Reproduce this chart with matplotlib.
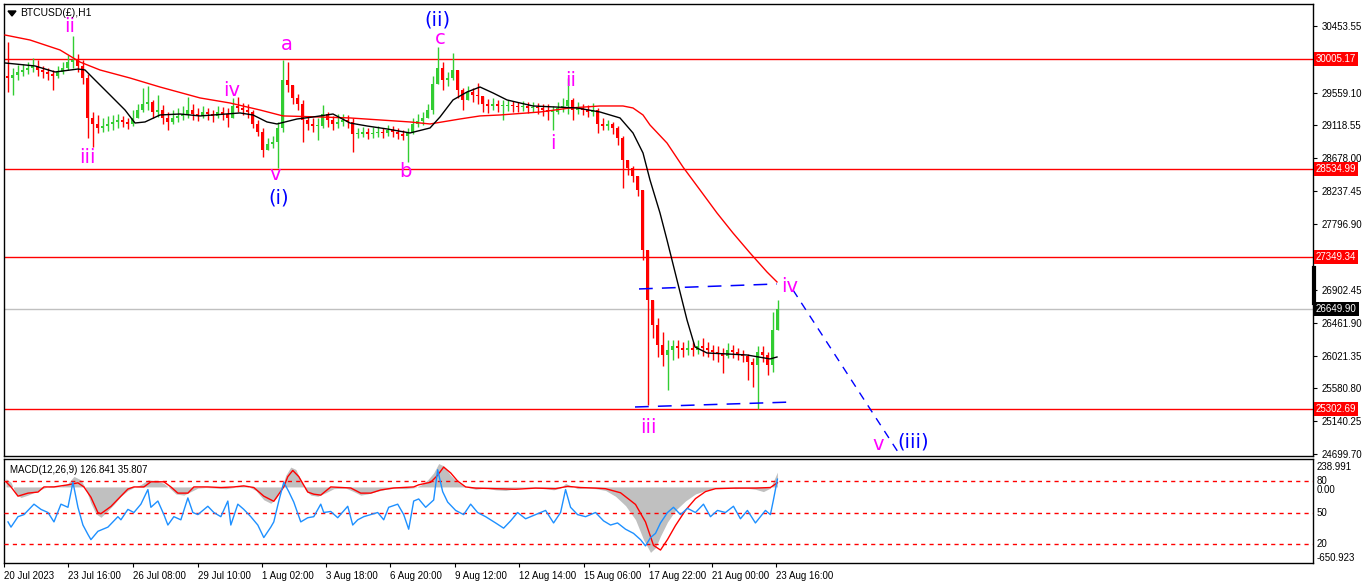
import matplotlib
matplotlib.use("Agg")
import matplotlib.pyplot as plt
from matplotlib.transforms import blended_transform_factory
import numpy as np

# ==================================================
# DATA (BTCUSD H1, each candle = 5 hourly bars)
# ==================================================
BAR_STEP = 5
first_open = 29780

closes = [29754, 29795, 29835, 29862, 29889, 29916, 29862, 29835, 29808, 29781,
          29835, 29889, 29969, 29996, 29916, 29754, 29217, 29136, 29082, 29109,
          29136, 29163, 29190, 29163, 29136, 29217, 29324, 29405, 29432, 29297,
          29324, 29217, 29163, 29217, 29244, 29270, 29324, 29270, 29244, 29297,
          29270, 29244, 29297, 29270, 29217, 29378, 29351, 29324, 29297, 29136,
          29028, 28786, 28867, 28894, 29082, 29727, 29660, 29486, 29405, 29190,
          29136, 29109, 29109, 29270, 29190, 29136, 29163, 29190, 29163, 29001,
          29001, 29028, 29001, 29015, 29028, 29015, 29055, 29028, 29001, 28975,
          29028, 29136, 29176, 29217, 29324, 29674, 29889, 29727, 29754, 29862,
          29593, 29459, 29566, 29526, 29512, 29405, 29378, 29405, 29378, 29378,
          29391, 29378, 29365, 29378, 29351, 29365, 29351, 29324, 29297, 29297,
          29351, 29378, 29459, 29324, 29351, 29324, 29297, 29324, 29136, 29109,
          29136, 29082, 28948, 28652, 28544, 28437, 28249, 27442, 26770, 26434,
          26165, 26030, 26098, 26151, 26125, 26098, 26125, 26098, 26151, 26125,
          26098, 26071, 26044, 26017, 26098, 26071, 26044, 26017, 25936, 25896,
          26071, 26030, 25896, 26366, 26649.90]

highs = [30238, 29889, 29929, 29943, 29969, 30023, 29996, 29916, 29889, 29862,
         29916, 29969, 30064, 30319, 30077, 29996, 29808, 29297, 29257, 29217,
         29244, 29257, 29270, 29244, 29217, 29324, 29405, 29620, 29647, 29459,
         29526, 29391, 29297, 29324, 29351, 29378, 29499, 29405, 29351, 29378,
         29351, 29324, 29378, 29365, 29351, 29486, 29499, 29418, 29405, 29324,
         29190, 29082, 28948, 28975, 29163, 29996, 29969, 29647, 29539, 29459,
         29244, 29217, 29217, 29391, 29297, 29244, 29270, 29270, 29257, 29217,
         29082, 29096, 29082, 29096, 29109, 29082, 29122, 29109, 29082, 29055,
         29082, 29217, 29270, 29297, 29405, 29781, 30171, 29969, 29835, 30090,
         29835, 29620, 29647, 29620, 29687, 29512, 29472, 29486, 29459, 29459,
         29459, 29445, 29432, 29445, 29432, 29432, 29418, 29405, 29405, 29378,
         29432, 29486, 29754, 29486, 29432, 29405, 29391, 29418, 29351, 29217,
         29190, 29163, 29109, 28975, 28652, 28572, 28437, 28047, 26931, 26770,
         26528, 26340, 26232, 26232, 26232, 26205, 26232, 26205, 26232, 26259,
         26205, 26165, 26151, 26125, 26192, 26165, 26125, 26098, 26044, 25990,
         26151, 26151, 26071, 26608, 26770]

lows = [29566, 29526, 29727, 29781, 29808, 29835, 29781, 29754, 29727, 29593,
        29754, 29808, 29862, 29889, 29835, 29674, 28948, 28827, 29015, 29028,
        29042, 29055, 29082, 29096, 29069, 29109, 29217, 29297, 29324, 29217,
        29230, 29136, 29055, 29136, 29163, 29190, 29217, 29190, 29176, 29217,
        29190, 29163, 29217, 29190, 29096, 29257, 29297, 29257, 29217, 29082,
        28975, 28692, 28786, 28813, 28544, 29028, 29566, 29405, 29324, 28894,
        29055, 29028, 28921, 29082, 29096, 29055, 29082, 29109, 29082, 28760,
        28948, 28961, 28934, 28948, 28961, 28948, 28975, 28961, 28934, 28921,
        28625, 29001, 29096, 29122, 29217, 29270, 29754, 29593, 29647, 29727,
        29486, 29324, 29459, 29432, 29405, 29297, 29284, 29324, 29297, 29190,
        29311, 29297, 29297, 29311, 29284, 29297, 29270, 29244, 29190, 29055,
        29270, 29297, 29270, 29190, 29270, 29257, 29230, 29244, 29015, 29055,
        29055, 29001, 28854, 28276, 28450, 28356, 28168, 27307, 25358, 26259,
        26003, 25883, 25560, 25963, 25990, 26003, 26030, 26017, 26044, 26017,
        26003, 25963, 25936, 25788, 25990, 25990, 25963, 25936, 25694, 25600,
        25305, 25936, 25762, 25802, 26366]

# moving averages (bar index, price)
slow_ma_bar = [0, 25, 55, 75, 95, 125, 155, 195, 225, 255,
               278, 315, 345, 375, 405, 425, 455, 475, 495, 535,
               565, 595, 618, 628, 638, 645, 662, 678, 695, 712,
               728, 745, 762, 772]
slow_ma = [30332, 30265, 30131, 29969, 29862, 29754, 29633, 29486, 29418, 29324,
           29244, 29230, 29217, 29190, 29163, 29136, 29203, 29244, 29257, 29297,
           29351, 29378, 29378, 29351, 29257, 29122, 28880, 28557, 28249, 27939,
           27670, 27402, 27146, 27012]

fast_ma_bar = [0, 30, 50, 73, 80, 90, 105, 120, 130, 140,
               155, 175, 195, 235, 248, 262, 272, 292, 308, 328,
               345, 362, 382, 405, 425, 435, 448, 462, 475, 488,
               502, 528, 572, 595, 615, 628, 638, 645, 655, 662,
               672, 682, 690, 702, 722, 742, 765, 772]
fast_ma = [29956, 29916, 29835, 29875, 29862, 29727, 29526, 29324, 29149, 29163,
           29257, 29270, 29244, 29284, 29257, 29163, 29136, 29203, 29230, 29270,
           29149, 29109, 29069, 29015, 29082, 29230, 29459, 29566, 29633, 29553,
           29459, 29378, 29351, 29297, 29217, 29015, 28746, 28383, 27939, 27576,
           27038, 26501, 26138, 26057, 26044, 26030, 25977, 26003]

level_lines = [30005.17, 28534.99, 27349.34, 25302.69]
last_price = 26649.90

# wave channel / projection drawn on the chart
channel_top_bar = [634, 772]
channel_top = [26918, 26985]
channel_bot_bar = [630, 790]
channel_bot = [25331, 25399]
projection_bar = [788, 893]
projection = [26904, 24726]

MAG, BLU = "#FF00FF", "#0000FF"
wave_labels = [
    ("ii", 65, 30453, MAG), ("iii", 82, 28679, MAG), ("iv", 227, 29580, MAG),
    ("v", 270, 28450, MAG), ("(i)", 274, 28141, BLU), ("a", 282, 30198, MAG),
    ("b", 400, 28491, MAG), ("(ii)", 432, 30535, BLU), ("c", 435, 30279, MAG),
    ("i", 548, 28867, MAG), ("ii", 566, 29714, MAG), ("iii", 643, 25049, MAG),
    ("iv", 785, 26945, MAG), ("v", 873, 24820, MAG), ("(iii)", 908, 24861, BLU),
]

price_ticks = [30453.55, 29559.10, 29118.55, 28678.00, 28237.45, 27796.90,
               26902.45, 26461.90, 26021.35, 25580.80, 25140.25, 24699.70]

time_tick_bar = [-2, 62, 127, 192, 256, 320, 384, 449, 513, 578, 643, 707, 771]
time_tick_labels = ["20 Jul 2023", "23 Jul 16:00", "26 Jul 08:00", "29 Jul 10:00",
                    "1 Aug 02:00", "3 Aug 18:00", "6 Aug 20:00", "9 Aug 12:00",
                    "12 Aug 14:00", "15 Aug 06:00", "17 Aug 22:00", "21 Aug 00:00",
                    "23 Aug 16:00"]

# MACD(12,26,9)
macd_bar = [0, 5, 10, 15, 22, 30, 38, 45, 55, 62, 68, 75, 80, 85, 90, 95, 100, 108,
            115, 122, 128, 135, 142, 150, 158, 165, 170, 178, 185, 192, 200, 210,
            220, 228, 235, 242, 250, 258, 265, 270, 275, 280, 285, 290, 295, 300,
            305, 312, 320, 328, 340, 348, 355, 362, 370, 380, 390, 400, 410, 416,
            422, 428, 433, 438, 445, 452, 460, 470, 480, 490, 500, 510, 520, 530,
            540, 548, 555, 560, 565, 572, 580, 590, 600, 610, 620, 630, 638, 645,
            650, 655, 662, 670, 680, 690, 700, 710, 720, 730, 740, 750, 758, 765, 772]
macd_main = [70, 40, -60, -90, -70, -40, -10, 10, 5, 30, 90, 60, -20, -140, -230,
             -260, -220, -150, -80, -30, -5, 20, 60, 55, 30, -20, -60, -70, -40, -10,
             -5, -10, -15, -5, 15, 5, -30, -110, -140, -100, -30, 100, 170, 150, 60,
             -30, -70, -80, -50, -15, -10, -40, -70, -60, -40, -20, -10, -15, -5, 20,
             60, 120, 200, 180, 100, 40, 0, -20, -10, -25, -30, -15, -5, -10, -15,
             -25, -10, 30, 10, -15, -10, -15, -30, -80, -160, -280, -450, -560, -520,
             -420, -300, -200, -120, -60, -30, -10, -5, -15, -10, -20, -40, -10, 126.841]

signal_bar = [0, 5, 12, 22, 32, 38, 48, 62, 72, 78, 85, 92, 95, 105, 115, 122, 128,
              138, 145, 158, 165, 172, 182, 188, 202, 215, 228, 238, 248, 258, 268,
              278, 282, 287, 293, 302, 308, 315, 325, 345, 355, 365, 375, 388, 408,
              413, 425, 432, 438, 445, 452, 460, 470, 490, 510, 530, 550, 562, 575,
              590, 600, 615, 630, 640, 648, 655, 662, 670, 680, 690, 700, 710, 730,
              750, 765, 772]
macd_signal = [44, 0, -79, -53, -44, 0, 0, 18, 35, 0, -88, -220, -229, -167, -79, -18,
               0, 0, 44, 44, 0, -53, -53, 0, 0, -5, 0, 9, -5, -79, -123, 0, 88, 141,
               88, -44, -62, -70, 0, -9, -53, -53, -26, -9, 0, 18, 40, 100, 170, 120,
               50, 0, -10, -15, -20, -10, -15, 5, -5, -10, -15, -50, -150, -300, -500,
               -540, -450, -330, -200, -100, -40, -15, -10, -10, -5, 35.807]

# oscillator overlaid in the MACD window (20/50/80 levels)
osc_bar = [2, 5, 12, 18, 28, 35, 42, 48, 55, 62, 67, 72, 77, 82, 85, 92, 102, 112,
           115, 122, 128, 135, 142, 145, 152, 158, 162, 168, 175, 182, 187, 192,
           202, 208, 215, 222, 225, 232, 238, 245, 252, 258, 265, 268, 273, 278,
           283, 288, 295, 302, 308, 315, 318, 325, 332, 342, 347, 352, 358, 365,
           372, 378, 383, 392, 398, 403, 408, 413, 420, 428, 432, 437, 442, 450,
           458, 465, 472, 480, 490, 498, 505, 512, 520, 530, 540, 548, 555, 560,
           565, 572, 580, 590, 598, 605, 612, 620, 628, 635, 640, 645, 650, 655,
           662, 668, 675, 682, 690, 698, 705, 712, 720, 728, 735, 742, 750, 755,
           760, 765, 768, 772]
osc = [41, 36, 46, 48, 58, 53, 50, 41, 58, 55, 79, 55, 38, 29, 24, 32, 36, 46, 43,
       53, 50, 58, 72, 55, 61, 48, 38, 46, 43, 64, 50, 48, 56, 50, 46, 61, 38, 58,
       53, 46, 38, 26, 36, 41, 61, 79, 70, 60, 41, 45, 46, 58, 50, 51, 45, 56, 38,
       43, 46, 48, 50, 43, 55, 58, 48, 34, 61, 63, 55, 62, 91, 70, 60, 52, 48, 58,
       50, 46, 40, 35, 42, 50, 44, 48, 52, 40, 50, 72, 55, 48, 46, 50, 42, 38, 40,
       34, 30, 24, 18, 26, 30, 40, 50, 55, 48, 54, 50, 58, 46, 52, 50, 56, 44, 52,
       40, 46, 52, 48, 62, 82]

# ==================================================
# FIGURE
# ==================================================
W, H = 1366, 588
plt.rcParams["font.family"] = ["Liberation Sans", "DejaVu Sans"]
fig = plt.figure(figsize=(W / 100, H / 100), dpi=100)
fig.patch.set_facecolor("white")


def px_rect(x0, y0, x1, y1):
    return [x0 / W, 1 - y1 / H, (x1 - x0) / W, (y1 - y0) / H]


ax = fig.add_axes(px_rect(4, 4, 1313, 456))
axm = fig.add_axes(px_rect(4, 459, 1313, 563))
for a in (ax, axm):
    for sp in a.spines.values():
        sp.set_color("black")
        sp.set_linewidth(1)

XMIN, XMAX = -1, 1308
ax.set_xlim(XMIN, XMAX)
ax.set_ylim(24672, 30749)

# candles
c = np.array(closes, dtype=float)
o = np.array([first_open] + closes[:-1], dtype=float)
h = np.maximum(np.array(highs, dtype=float), np.maximum(o, c))
l = np.minimum(np.array(lows, dtype=float), np.minimum(o, c))
xs = np.arange(len(c)) * BAR_STEP + BAR_STEP / 2
cols = np.where(c >= o, "#32CD32", "#FF0000")
ax.vlines(xs, l, h, colors=cols, linewidth=1.0, zorder=3)
body = np.maximum(np.abs(c - o), 8)
ax.bar(xs, body, bottom=np.minimum(o, c), width=2.2, color=cols, linewidth=0, zorder=3)

# level lines
for lv in level_lines:
    ax.axhline(lv, color="#FF0000", linewidth=1, zorder=1)
ax.axhline(last_price, color="#C0C0C0", linewidth=1, zorder=1)

# moving averages
ax.plot(slow_ma_bar, slow_ma, color="#FF0000", linewidth=1, zorder=4)
ax.plot(fast_ma_bar, fast_ma, color="black", linewidth=1, zorder=4)

# wave channel and projection
ax.plot(channel_top_bar, channel_top, color="#0000FF", linewidth=1.1, dashes=(9, 6), zorder=5)
ax.plot(channel_bot_bar, channel_bot, color="#0000FF", linewidth=1.1, dashes=(9, 6), zorder=5)
ax.plot(projection_bar, projection, color="#0000FF", linewidth=1.0, dashes=(6, 5), zorder=5)

# wave labels
for txt, bx, py, col in wave_labels:
    ax.text(bx, py, txt, color=col, fontsize=14, ha="center", va="center",
            family="DejaVu Sans", zorder=6)

# price axis
ax.set_xticks([])
ax.yaxis.tick_right()
ax.set_yticks(price_ticks)
ax.set_yticklabels([f"{p:.2f}" for p in price_ticks])
ax.tick_params(axis="y", labelsize=7, length=3, pad=3, colors="black")

trans = blended_transform_factory(ax.transAxes, ax.transData)
for lv in level_lines:
    ax.text(1.0022, lv, f"{lv:.2f}", transform=trans, ha="left", va="center",
            fontsize=7, color="white", clip_on=False, zorder=7,
            bbox=dict(boxstyle="square,pad=0.2", fc="#FF0000", ec="none"))
ax.text(1.0022, last_price, f"{last_price:.2f}", transform=trans, ha="left", va="center",
        fontsize=7, color="white", clip_on=False, zorder=7,
        bbox=dict(boxstyle="square,pad=0.2", fc="black", ec="none"))

# symbol title
fig.text(20 / W, 1 - 13 / H, "BTCUSD(£),H1", fontsize=7.5, ha="left", va="center")
fig.patches.append(plt.Polygon([[8 / W, 1 - 11 / H], [16 / W, 1 - 11 / H], [12 / W, 1 - 16 / H]],
                               closed=True, color="black", transform=fig.transFigure))
# current price marker on the scale
fig.add_artist(plt.Line2D([1313.5 / W, 1313.5 / W], [1 - 268 / H, 1 - 303 / H],
                          color="black", linewidth=3, transform=fig.transFigure))

# ==================================================
# MACD WINDOW
# ==================================================
axm.set_xlim(XMIN, XMAX)
axm.set_ylim(-650.923, 238.991)
axm.fill_between(macd_bar, 0, macd_main, color="#C0C0C0", linewidth=0, zorder=2)
axm.plot(signal_bar, macd_signal, color="#FF0000", linewidth=1, zorder=3)
axm.set_yticks([])

axo = axm.twinx()
axo.set_ylim(1.6, 101.3)
for lv in (80, 50, 20):
    axo.axhline(lv, color="#FF0000", linewidth=1, dashes=(3, 3), zorder=1)
axo.plot(osc_bar, osc, color="#1E90FF", linewidth=1, zorder=4)
axo.set_yticks([])
for sp in axo.spines.values():
    sp.set_visible(False)

fig.text(10 / W, 1 - 470 / H, "MACD(12,26,9) 126.841 35.807", fontsize=7, ha="left", va="center")
for txt, yy in [("238.991", 467), ("80", 481), ("0.00", 490), ("50", 513), ("20", 544), ("-650.923", 558)]:
    fig.text(1317 / W, 1 - yy / H, txt, fontsize=7, ha="left", va="center")

axm.set_xticks(time_tick_bar)
axm.set_xticklabels(time_tick_labels, ha="left")
axm.tick_params(axis="x", labelsize=7, length=3, pad=3, direction="out")

fig.savefig("out.png", dpi=100, facecolor="white")
